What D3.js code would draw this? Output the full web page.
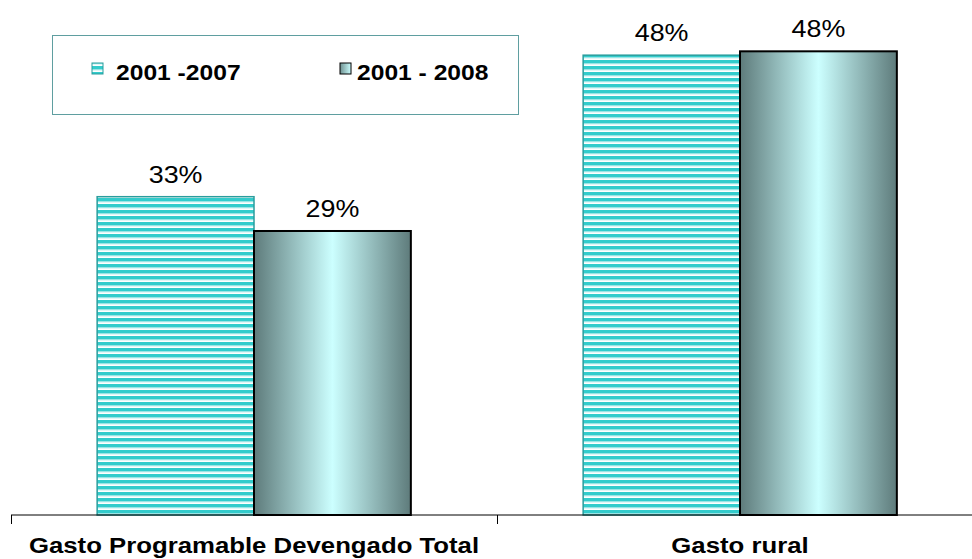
<!DOCTYPE html>
<html><head><meta charset="utf-8">
<script src="https://cdn.jsdelivr.net/npm/d3@7"></script>
<style>html,body{margin:0;padding:0;background:#fff;}svg{display:block;}</style>
</head><body>
<svg id="chart" width="972" height="559"></svg>
<script>
const categories = ["Gasto Programable Devengado Total", "Gasto rural"];
const seriesNames = ["2001 -2007", "2001 - 2008"];
const series2007 = [32.95, 47.6];
const series2008 = [29.4, 48.0];
const valueLabels2007 = ["33%", "48%"];
const valueLabels2008 = ["29%", "48%"];

const svg = d3.select("#chart");
const font = "Arial, 'Liberation Sans', sans-serif";
const SX = 1.12;

function txt(parent, x, y, s, size, bold, anchor){
  return parent.append("text").attr("transform",`translate(${x},${y}) scale(${SX},1)`)
    .attr("text-anchor",anchor||"start").attr("font-family",font)
    .attr("font-weight",bold?"bold":"normal").attr("font-size",size).attr("fill","#000").text(s);
}

const defs = svg.append("defs");
const pat = defs.append("pattern").attr("id","stripes").attr("patternUnits","userSpaceOnUse")
  .attr("width",8).attr("height",6);
pat.append("rect").attr("width",8).attr("height",6).attr("fill","#ffffff");
pat.append("rect").attr("y",0).attr("width",8).attr("height",3.5).attr("fill","#33CCCC");
pat.append("rect").attr("y",3.5).attr("width",8).attr("height",0.8).attr("fill","#99E6E6");
const grad = defs.append("linearGradient").attr("id","cyl").attr("x1","0%").attr("x2","100%").attr("y1","0%").attr("y2","0%");
grad.append("stop").attr("offset","0%").attr("stop-color","#5E7B7B");
grad.append("stop").attr("offset","50%").attr("stop-color","#CCFFFF");
grad.append("stop").attr("offset","100%").attr("stop-color","#5E7B7B");
const gradL = defs.append("linearGradient").attr("id","cylL").attr("x1","0%").attr("x2","100%");
gradL.append("stop").attr("offset","0%").attr("stop-color","#6E9090");
gradL.append("stop").attr("offset","100%").attr("stop-color","#CCFFFF");

const x0 = d3.scaleBand().domain(categories).range([11, 983]).paddingInner(0).paddingOuter(0);
const x1 = d3.scaleBand().domain(seriesNames).range([0, x0.bandwidth()]).paddingInner(0).paddingOuter(0.5492);
const y = d3.scaleLinear().domain([0, 50]).range([515, 32]);

const data = categories.map((c,i)=>({c, vals:[
  {s:seriesNames[0], v:series2007[i], lab:valueLabels2007[i]},
  {s:seriesNames[1], v:series2008[i], lab:valueLabels2008[i]}]}));

const g = svg.append("g");
data.forEach(d=>{
  d.vals.forEach((e,j)=>{
    const xx = x0(d.c) + x1(e.s);
    const w = x1.bandwidth();
    g.append("rect").attr("x",xx).attr("y",y(e.v)).attr("width",w).attr("height",y(0)-y(e.v))
      .attr("fill", j===0 ? "url(#stripes)" : "url(#cyl)")
      .attr("stroke", j===0 ? "#2A9D9D" : "#000").attr("stroke-width", j===0?1.5:2);
    txt(g, xx+w/2, y(e.v)-14, e.lab, 24, false, "middle");
  });
});

// axis
const axis = d3.axisBottom(x0).tickSize(0).tickFormat("");
const ax = svg.append("g").attr("transform","translate(0,515)").call(axis);
ax.select(".domain").attr("stroke","#000").attr("stroke-width",1);
ax.select(".domain").attr("d","M11,0H983");
const bounds = [11, 497, 983];
bounds.forEach(b=>{
  svg.append("line").attr("x1",b+0.5).attr("x2",b+0.5).attr("y1",515).attr("y2",524).attr("stroke","#000").attr("stroke-width",1);
});
categories.forEach(c=>{
  txt(svg, x0(c)+x0.bandwidth()/2, 553, c, 23, true, "middle");
});

// legend
const lg = svg.append("g");
lg.append("rect").attr("x",52.5).attr("y",35.5).attr("width",466).attr("height",79)
  .attr("fill","#fff").attr("stroke","#5F9EA0").attr("stroke-width",1);
const legX = [92, 340];
seriesNames.forEach((s,i)=>{
  lg.append("rect").attr("x",legX[i]).attr("y",63).attr("width",11).attr("height",11)
    .attr("fill", i===0 ? "url(#stripes)" : "url(#cylL)").attr("stroke", i===0?"#2A9D9D":"#000").attr("stroke-width",1);
  txt(lg, legX[i]+(i===0?24:17), 80, s, 22, true, "start");
});
</script>
</body></html>
